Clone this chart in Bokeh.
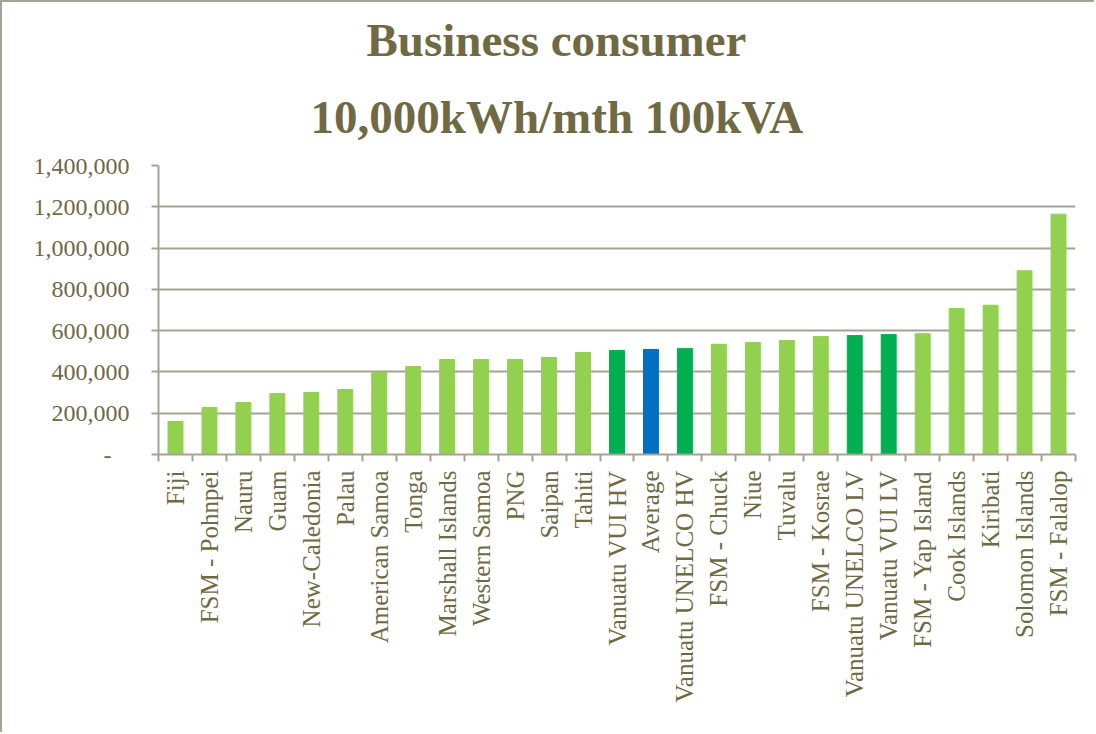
import math
from bokeh.plotting import figure
from bokeh.models import FixedTicker, Title, NumeralTickFormatter
from bokeh.embed import file_html
from bokeh.resources import INLINE

categories = ["Fiji", "FSM - Pohnpei", "Nauru", "Guam", "New-Caledonia", "Palau",
              "American Samoa", "Tonga", "Marshall Islands", "Western Samoa", "PNG",
              "Saipan", "Tahiti", "Vanuatu VUI HV", "Average", "Vanuatu UNELCO HV",
              "FSM - Chuck", "Niue", "Tuvalu", "FSM - Kosrae", "Vanuatu UNELCO LV",
              "Vanuatu VUI LV", "FSM - Yap Island", "Cook Islands", "Kiribati",
              "Solomon Islands", "FSM - Falalop"]
values = [160000, 228000, 252000, 295000, 300000, 315000,
          397000, 426000, 460000, 460000, 460000,
          470000, 494000, 504000, 509000, 514000,
          534000, 543000, 552000, 572000, 576000,
          581000, 585000, 707000, 723000,
          890000, 1164000]
groups = ["other"] * 13 + ["vanuatu", "average", "vanuatu"] + ["other"] * 4 + ["vanuatu", "vanuatu"] + ["other"] * 5
y_ticks = [0, 200000, 400000, 600000, 800000, 1000000, 1200000, 1400000]
title_lines = ["Business consumer", "10,000kWh/mth 100kVA"]

palette = {"other": "#92D050", "vanuatu": "#00B050", "average": "#0070C0"}
colors = [palette[g] for g in groups]
xs = list(range(len(categories)))

TEXT = "#6F6A44"
GRAY = "#A6A394"
FONT = "Liberation Serif"

p = figure(width=1094, height=732, output_backend="svg", toolbar_location=None,
           x_range=(-0.5, len(categories) - 0.5), y_range=(0, 1400000),
           min_border_left=156, min_border_right=21, min_border_bottom=280,
           min_border_top=163)
p.outline_line_color = None
p.styles = {"border-left": "2px solid #A6A394", "border-top": "2px solid #A6A394"}

p.vbar(x=xs, top=values, width=0.44, color=colors)

# two-line title (stacked outward from the frame)
t2 = Title(text=title_lines[1], align="left", offset=152, text_font=FONT,
           text_font_size="47px", text_font_style="bold", text_color=TEXT,
           standoff=46)
t1 = Title(text=title_lines[0], align="left", offset=208, text_font=FONT,
           text_font_size="47px", text_font_style="bold", text_color=TEXT,
           standoff=0)
p.add_layout(t2, "above")
p.add_layout(t1, "above")

# y axis
p.yaxis.ticker = FixedTicker(ticks=y_ticks)
p.yaxis.formatter = NumeralTickFormatter(format="0,0")
p.yaxis.major_label_overrides = {0: "-\u00a0\u00a0\u00a0"}
p.yaxis.major_label_text_font = FONT
p.yaxis.major_label_text_font_size = "24px"
p.yaxis.major_label_text_color = TEXT
p.yaxis.axis_line_color = GRAY
p.yaxis.axis_line_width = 2
p.yaxis.major_tick_line_color = GRAY
p.yaxis.major_tick_line_width = 2
p.yaxis.major_tick_out = 7
p.yaxis.major_tick_in = 0
p.yaxis.minor_tick_line_color = None
p.yaxis.major_label_standoff = 22

# x axis
p.xaxis.ticker = FixedTicker(ticks=xs, minor_ticks=[i - 0.5 for i in range(len(categories) + 1)])
p.xaxis.major_label_overrides = {i: c for i, c in enumerate(categories)}
p.xaxis.major_label_orientation = math.pi / 2
p.xaxis.major_label_text_font = FONT
p.xaxis.major_label_text_font_size = "25px"
p.xaxis.major_label_text_color = TEXT
p.xaxis.axis_line_color = GRAY
p.xaxis.axis_line_width = 2
p.xaxis.major_tick_line_color = None
p.xaxis.minor_tick_line_color = GRAY
p.xaxis.minor_tick_line_width = 2
p.xaxis.minor_tick_out = 7
p.xaxis.minor_tick_in = 0
p.xaxis.major_label_standoff = 9

p.xgrid.grid_line_color = None
p.ygrid.ticker = FixedTicker(ticks=y_ticks)
p.ygrid.grid_line_color = GRAY
p.ygrid.grid_line_width = 2

open("out.html", "w").write(file_html(p, INLINE))
